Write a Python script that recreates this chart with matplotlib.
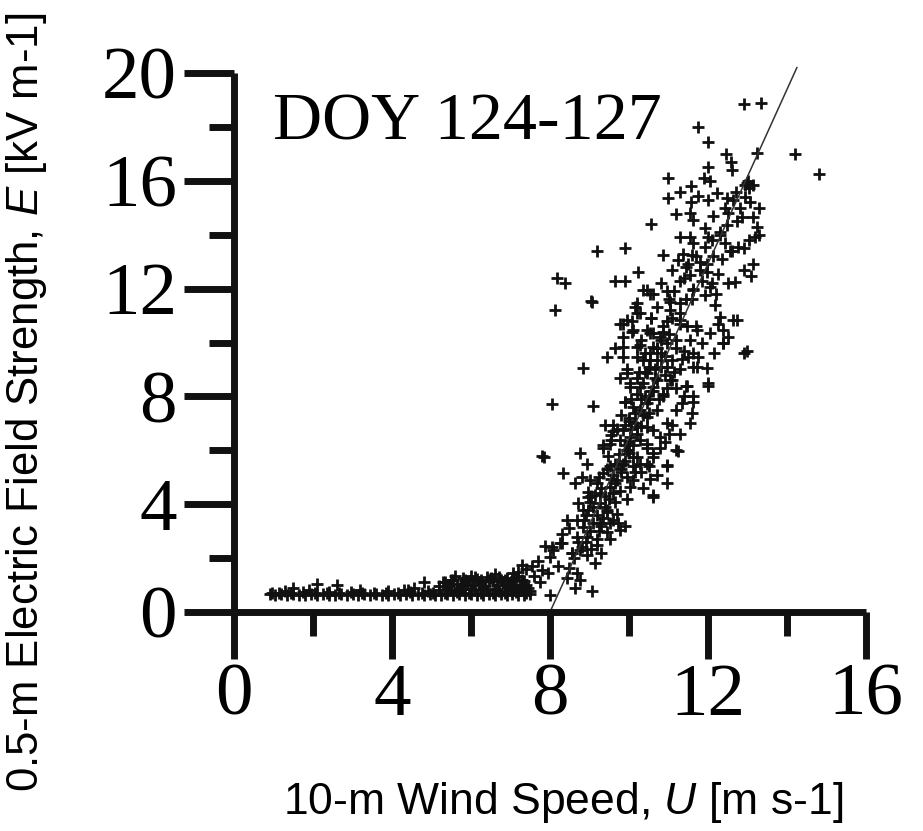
import matplotlib
matplotlib.use("Agg")
import matplotlib.pyplot as plt
from matplotlib.ticker import MultipleLocator

# ---------------- data ----------------
# low-wind flat band
u_flat = [0.9, 1.05, 1.2, 1.35, 1.5, 1.65, 1.8, 1.95, 2.1, 2.25, 2.4, 2.55, 2.7, 2.85, 3.0,
          3.15, 3.3, 3.45, 3.6, 3.75, 3.9, 4.05, 4.2, 4.35, 4.5, 4.65, 4.8, 4.95, 5.1, 5.25,
          5.4, 5.55, 5.7, 5.85, 6.0, 6.15, 6.3, 6.45, 6.6, 6.75, 6.9, 7.05, 7.2, 7.35, 7.5,
          1.3, 1.9, 2.4, 3.2, 3.9, 4.4, 4.9, 5.2, 5.5, 5.8, 6.1, 6.4, 6.7, 7.0, 7.3, 7.5,
          1.5, 2.1, 2.6, 4.8, 4.55, 4.3,
          5.2, 5.35, 5.5, 5.65, 5.8, 5.95, 6.1, 6.25, 6.4, 6.55, 6.7, 6.85, 7.0, 7.15, 7.3,
          5.45, 5.75, 6.05, 6.35, 6.65, 6.95, 7.25, 7.45,
          5.6, 5.9, 6.2, 6.5, 6.8, 7.1, 5.3, 6.0, 6.6, 7.2,
          0.95, 1.15, 1.45, 1.75, 2.05, 2.35, 2.65, 2.95, 3.25, 3.55, 3.85, 4.15, 4.45, 4.75,
          5.05, 5.35, 5.65, 5.95, 6.25, 6.55, 6.85, 7.15, 7.4,
          5.4, 5.7, 6.0, 6.3, 6.6, 6.9, 7.2, 5.55, 5.85, 6.15, 6.45, 6.75, 7.05, 7.35]
e_flat = [0.65, 0.62, 0.66, 0.63, 0.67, 0.64, 0.62, 0.66, 0.63, 0.68, 0.64, 0.62, 0.66, 0.63, 0.65,
          0.62, 0.67, 0.63, 0.66, 0.62, 0.64, 0.67, 0.63, 0.66, 0.62, 0.65, 0.63, 0.67, 0.64, 0.62,
          0.66, 0.63, 0.65, 0.62, 0.66, 0.64, 0.62, 0.67, 0.63, 0.65, 0.62, 0.66, 0.64, 0.62, 0.66,
          0.78, 0.8, 0.76, 0.8, 0.77, 0.8, 0.79, 0.82, 0.8, 0.84, 0.8, 0.83, 0.79, 0.82, 0.8, 0.78,
          0.88, 1.05, 1.0, 1.1, 0.9, 0.82,
          0.95, 1.1, 1.2, 1.05, 1.25, 1.15, 1.3, 1.2, 1.3, 1.15, 1.3, 1.2, 1.1, 1.3, 1.2,
          0.95, 0.95, 1.0, 0.95, 1.0, 0.95, 1.0, 0.9,
          1.35, 1.05, 1.1, 1.25, 1.1, 1.0, 1.1, 1.35, 1.4, 1.35,
          0.7, 0.72, 0.7, 0.73, 0.7, 0.72, 0.7, 0.73, 0.71, 0.7, 0.72, 0.7, 0.73, 0.71,
          0.72, 0.7, 0.73, 0.7, 0.72, 0.71, 0.7, 0.73, 0.72,
          0.85, 0.88, 0.85, 0.88, 0.86, 0.88, 0.85, 1.2, 1.18, 1.22, 1.2, 1.18, 1.22, 1.15]

# rising branch and main cloud
u_rise = [7.2, 7.4, 7.55, 7.7, 7.6, 7.8, 7.3, 7.07, 6.9, 7.4, 7.75, 7.95, 7.87, 8.05, 8.3,
          8.0, 8.08, 8.25, 8.2, 8.47, 8.43, 8.68, 8.77, 8.0, 8.63, 9.06, 9.14, 9.3, 8.93, 9.2,
          8.8, 8.68, 8.93, 9.2, 9.52, 8.43, 8.47, 8.68, 8.84, 9.27, 9.52, 9.72, 9.9, 9.44,
          9.6, 9.77, 9.7, 9.44, 9.27, 8.97, 9.27, 9.52, 9.65, 9.77, 8.72, 8.84, 9.0, 8.63,
          8.8, 9.0, 9.2, 8.97, 9.35, 9.52, 9.72, 9.95, 10.03, 10.35, 10.53, 10.6, 9.95,
          10.2, 10.45, 9.52, 9.35, 9.6, 9.9, 9.55, 10.45, 10.6, 8.3, 8.55, 8.9, 9.1, 9.4,
          9.05, 9.25, 9.45, 9.65, 9.35, 9.15, 9.55, 9.8, 9.75, 10.0, 10.15,
          8.6, 8.75, 8.9, 9.0, 9.1, 9.2, 9.3, 9.4, 9.5, 9.6, 9.3, 9.7, 9.8, 9.9, 10.0, 9.6,
          10.1, 10.2, 10.3, 10.0, 10.35, 9.9, 9.8, 9.7, 9.55, 9.45, 9.25, 9.05, 8.95, 8.85,
          8.7, 8.55, 10.05, 10.15, 9.95, 10.1, 10.3, 10.5, 10.7, 10.9, 11.0, 11.3]
e_rise = [1.5, 1.6, 1.7, 1.9, 1.35, 1.55, 1.75, 1.45, 1.25, 1.0, 1.1, 1.45, 2.45, 2.4, 2.55,
          2.05, 2.3, 2.55, 1.7, 1.65, 1.25, 1.45, 1.2, 0.63, 0.89, 0.79, 1.8, 2.2, 2.1, 2.5,
          2.4, 2.8, 2.8, 2.7, 2.7, 3.4, 3.1, 3.4, 3.15, 3.3, 3.3, 3.3, 3.2, 2.95,
          3.4, 3.05, 3.65, 3.8, 4.05, 4.25, 4.4, 4.65, 4.8, 4.5, 4.05, 3.8, 4.1, 4.8,
          5.0, 4.9, 4.8, 4.45, 5.15, 5.4, 5.5, 5.0, 4.65, 4.6, 4.95, 4.25, 6.0,
          5.75, 5.5, 6.25, 6.1, 6.7, 6.95, 6.55, 6.1, 5.9, 2.9, 2.2, 3.6, 3.9, 4.3,
          2.35, 3.0, 3.7, 4.1, 3.5, 4.35, 4.95, 5.3, 5.85, 6.3, 5.2,
          2.0, 2.3, 2.6, 3.0, 3.3, 3.6, 3.2, 3.9, 4.2, 4.4, 4.6, 4.9, 5.2, 5.6, 5.9, 5.1,
          6.2, 6.6, 6.9, 7.1, 7.3, 7.8, 7.3, 6.8, 6.4, 5.3, 5.0, 4.3, 3.8, 3.4,
          2.6, 2.2, 6.8, 7.4, 4.2, 4.9, 5.2, 5.4, 5.1, 6.3, 6.6, 6.6]

u_mid = [9.06, 8.83, 9.39, 9.6, 8.76, 8.93, 9.35, 9.47, 9.65, 9.77, 9.95, 10.08, 10.15, 10.28,
         10.35, 10.53, 11.04, 11.3, 11.2, 11.55, 11.7, 12.3, 12.38, 12.63, 12.18, 11.92, 11.63,
         11.55, 11.62, 12.0, 11.72, 11.62, 11.6, 11.55, 11.34, 11.2, 11.1, 10.96, 11.2, 10.96,
         10.78, 10.6, 10.7, 10.86, 11.04, 10.7, 10.35, 10.2, 10.03, 9.95, 9.77, 10.1, 10.28,
         10.45, 10.45, 10.2, 10.45, 9.85, 10.03, 10.28, 10.45, 9.77, 9.95, 10.1, 10.28, 10.6,
         10.78, 9.85, 10.1, 10.53, 10.35, 10.2, 10.7, 10.78, 10.53, 11.1,
         8.05, 9.1, 7.8, 7.85, 8.33, 9.44, 9.65, 9.85, 9.85,
         10.6, 10.96, 11.25, 10.95, 11.45, 12.0, 11.97,
         10.8, 10.45, 10.6, 10.96, 11.3, 11.62, 12.05, 11.6, 11.3, 10.2, 10.2, 10.08, 9.85,
         9.85, 10.1, 10.45, 10.6, 10.8, 10.96, 11.2, 11.3, 11.47, 11.72, 12.05, 12.25, 12.38,
         12.73, 12.38, 11.5, 11.75, 11.62, 11.3, 10.96, 11.1, 11.47, 10.6, 10.8, 10.53,
         10.8, 10.45, 10.2, 9.95, 10.03, 10.28, 10.6, 10.86, 10.2, 10.28, 12.9, 12.98, 11.62,
         10.4, 10.55, 10.65, 10.3, 10.9, 10.0, 10.15, 10.5, 10.75, 10.95, 11.15, 11.4, 10.55,
         9.9, 10.05, 10.7, 10.85, 11.0,
         10.5, 10.6, 10.4, 10.65, 10.5, 10.7, 10.85, 10.95, 11.05, 11.15, 11.0, 11.1, 10.9,
         10.4, 10.3, 10.25, 9.9, 10.55, 10.7, 11.3, 11.45, 11.85, 12.1, 11.4, 11.2, 11.35,
         11.85, 12.15, 12.5]
e_mid = [11.5, 9.05, 6.95, 6.95, 5.9, 5.5, 6.2, 5.8, 5.5, 10.7, 10.85, 10.4, 11.3, 11.1,
         11.95, 11.8, 11.2, 10.7, 10.1, 10.1, 10.6, 10.95, 10.0, 10.85, 11.4, 11.75, 11.95,
         12.5, 9.6, 8.4, 9.1, 7.8, 7.4, 7.0, 7.75, 7.5, 6.95, 7.0, 6.0, 5.45,
         6.5, 6.75, 7.5, 8.0, 8.6, 8.6, 8.5, 8.1, 8.35, 9.0, 8.7, 7.6, 7.5,
         7.75, 7.25, 6.85, 6.85, 6.75, 6.5, 6.4, 6.25, 6.4, 6.0, 5.75, 5.5, 5.75,
         6.1, 5.5, 5.4, 9.6, 9.35, 9.85, 9.35, 10.2, 10.35, 9.35,
         7.7, 7.65, 5.8, 5.75, 5.15, 9.45, 9.8, 9.85, 9.45,
         4.35, 4.8, 5.98, 5.4, 8.4, 8.5, 9.05,
         12.2, 11.95, 11.8, 11.9, 12.3, 12.0, 12.05, 11.6, 11.45, 11.45, 11.1, 10.8, 10.7,
         10.2, 10.45, 10.45, 10.35, 10.1, 9.97, 9.8, 10.85, 10.6, 10.45, 10.35, 10.7, 10.45,
         10.85, 9.97, 9.45, 9.45, 9.1, 9.0, 9.1, 8.6, 8.4, 9.85, 9.6, 9.35,
         9.1, 8.85, 8.7, 8.85, 8.5, 8.35, 8.35, 8.1, 9.45, 9.9, 9.6, 9.7, 8.0,
         8.9, 8.2, 9.0, 7.9, 8.8, 7.2, 7.0, 7.4, 7.9, 8.3, 8.9, 9.7, 10.9,
         6.2, 7.9, 9.8, 10.6, 11.6,
         7.9, 8.2, 8.0, 8.7, 9.1, 9.8, 10.4, 10.8, 11.5, 11.9, 10.3, 10.9, 9.5,
         9.6, 10.1, 8.9, 7.8, 10.9, 11.3, 11.1, 11.6, 12.3, 12.2, 8.0, 8.3, 9.4,
         10.0, 9.6, 10.2]

u_top = [12.9, 13.35, 11.75, 12.0, 12.45, 12.58, 12.6, 13.25, 14.2, 14.8, 12.0, 11.9, 12.05,
         10.99, 10.99, 11.3, 11.57, 11.75, 12.0, 12.23, 12.47, 12.94, 13.14, 11.57, 11.2, 11.55,
         12.13, 12.63, 12.94, 13.06, 13.3, 13.14, 12.86, 12.48, 12.73, 13.24, 13.3, 11.62, 11.92,
         12.43, 10.56, 12.98, 13.05,
         12.0, 11.3, 11.55, 11.62, 11.92, 12.13, 12.43, 12.76, 12.9, 10.86, 11.24, 11.37, 11.59,
         11.97, 11.97, 12.25, 12.5, 12.68, 13.14, 13.1, 9.2, 9.9, 10.23, 9.64, 9.9, 8.13, 8.18,
         8.38, 9.04, 11.45, 11.8, 12.3, 12.55, 11.1, 12.2,
         11.4, 11.5, 11.7, 11.8, 12.1, 12.3, 12.5, 12.7, 13.0, 12.8, 12.35, 12.6, 12.9,
         13.05, 13.2]
e_top = [18.85, 18.9, 18.0, 17.45, 17.0, 16.7, 16.4, 17.05, 17.0, 16.25, 16.5, 16.1, 16.0,
         16.1, 15.35, 15.6, 15.8, 15.45, 15.3, 15.55, 15.35, 15.85, 15.85, 15.2, 14.75, 14.8,
         14.7, 15.3, 15.4, 15.2, 15.0, 14.65, 14.65, 14.35, 14.5, 14.3, 14.0, 14.55, 14.25,
         15.0, 14.4, 15.9, 15.75,
         13.9, 13.9, 13.9, 13.7, 13.55, 13.2, 13.7, 13.55, 13.5, 13.25, 13.05, 13.3, 13.25,
         12.9, 12.6, 12.55, 12.2, 12.25, 12.9, 12.45, 13.4, 13.5, 12.6, 12.3, 12.3, 11.2, 12.4,
         12.2, 11.55, 12.8, 13.0, 14.1, 13.4, 12.7, 11.8,
         12.4, 12.9, 13.2, 12.7, 13.8, 14.0, 14.8, 15.6, 16.0, 15.0, 13.1, 13.4, 12.7,
         13.8, 13.9]

# fitted line endpoints
fit_u = [8.0, 14.25]
fit_e = [0.0, 20.2]

x_ticks = [0, 4, 8, 12, 16]
y_ticks = [0, 4, 8, 12, 16, 20]
x_label = "10-m Wind Speed, $U$ [m s-1]"
y_label = "0.5-m Electric Field Strength, $E$ [kV m-1]"
annot = "DOY 124-127"

# ---------------- figure ----------------
plt.rcParams['mathtext.fontset'] = 'custom'
plt.rcParams['mathtext.it'] = 'Liberation Sans:italic'
plt.rcParams['mathtext.rm'] = 'Liberation Sans'

fig = plt.figure(figsize=(9.23, 8.31), dpi=100)
ax = fig.add_axes([234 / 923, 1 - 612 / 831, (866 - 234) / 923, (612 - 73) / 831])

u_all = u_flat + u_rise + u_mid + u_top
e_all = e_flat + e_rise + e_mid + e_top
ax.plot(u_all, e_all, linestyle='none', marker='+', markersize=8.5, markeredgewidth=2.0,
        color='#111111', clip_on=False)
ax.plot(fit_u, fit_e, color='#333333', linewidth=1.1, clip_on=False)

ax.set_xlim(0, 16)
ax.set_ylim(0, 20)
for s in ['top', 'right']:
    ax.spines[s].set_visible(False)
for s in ['left', 'bottom']:
    ax.spines[s].set_linewidth(5)
    ax.spines[s].set_color('#111111')
    ax.spines[s].set_capstyle('butt')

ax.set_xticks(x_ticks)
ax.set_yticks(y_ticks)
ax.xaxis.set_minor_locator(MultipleLocator(2))
ax.yaxis.set_minor_locator(MultipleLocator(2))
ax.tick_params(axis='x', which='major', direction='out', length=34, width=5, color='#111111', pad=3)
ax.tick_params(axis='x', which='minor', direction='out', length=17, width=5, color='#111111')
ax.tick_params(axis='y', which='major', direction='out', length=36, width=5, color='#111111', pad=5)
ax.tick_params(axis='y', which='minor', direction='out', length=18, width=5, color='#111111')
for lab in ax.get_xticklabels() + ax.get_yticklabels():
    lab.set_fontfamily('Liberation Serif')
    lab.set_fontsize(54)

fig.text(273 / 923, 1 - 140 / 831, annot, fontsize=49,
         family='Liberation Serif', ha='left', va='baseline')

fig.text(283 / 923, 1 - 814 / 831, x_label, fontsize=32,
         family='Liberation Sans', ha='left', va='baseline')
fig.text(4 / 923, 1 - 792 / 831, y_label, fontsize=31.5, family='Liberation Sans',
         rotation=90, ha='left', va='bottom')

fig.savefig("out.png", dpi=100)
